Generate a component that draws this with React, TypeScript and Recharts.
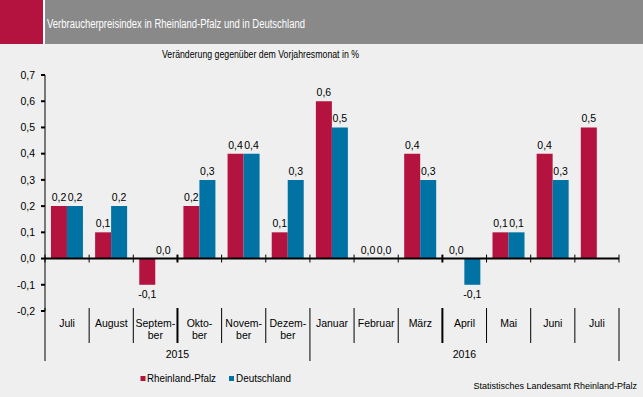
import React from "react";
import { BarChart, Bar, XAxis, YAxis, ReferenceLine, LabelList } from "recharts";

const title = "Verbraucherpreisindex in Rheinland-Pfalz und in Deutschland";
const subtitle = "Veränderung gegenüber dem Vorjahresmonat in %";
const source = "Statistisches Landesamt Rheinland-Pfalz";

const months = ["Juli", "August", "September", "Oktober", "November", "Dezember", "Januar", "Februar", "März", "April", "Mai", "Juni", "Juli"];
const monthLabels = [["Juli"], ["August"], ["Septem-", "ber"], ["Okto-", "ber"], ["Novem-", "ber"], ["Dezem-", "ber"], ["Januar"], ["Februar"], ["März"], ["April"], ["Mai"], ["Juni"], ["Juli"]];
const monthYears = ["2015", "2015", "2015", "2015", "2015", "2015", "2016", "2016", "2016", "2016", "2016", "2016", "2016"];

const rlpValues = [0.2, 0.1, -0.1, 0.2, 0.4, 0.1, 0.6, 0.0, 0.4, 0.0, 0.1, 0.4, 0.5];
const deValues: (number | null)[] = [0.2, 0.2, 0.0, 0.3, 0.4, 0.3, 0.5, 0.0, 0.3, -0.1, 0.1, 0.3, null];

const yTicks = [-0.2, -0.1, 0, 0.1, 0.2, 0.3, 0.4, 0.5, 0.6, 0.7];
const quarterBoundaries = [3, 9];

const series = [
  { key: "rlp", name: "Rheinland-Pfalz", color: "#B5133F" },
  { key: "de", name: "Deutschland", color: "#0072A3" },
];

const data = months.map((m, i) => ({
  cat: m + " " + monthYears[i],
  rlp: rlpValues[i],
  de: deValues[i],
}));

const FONT = "'Liberation Sans', Arial, sans-serif";
const fmt = (v: any) => (v === null || v === undefined ? "" : Number(v).toFixed(1).replace(".", ","));

const BarLabel = (props: any) => {
  const { x, y, width, height, value } = props;
  if (value === null || value === undefined || x === undefined) return null;
  const v = Number(value);
  const h = Number(height) || 0;
  const cx = Number(x) + Number(width) / 2;
  if (v < 0) {
    const by = h < 0 ? Number(y) : Number(y) + h;
    return (
      <text x={cx} y={by + 13} textAnchor="middle" fontSize={10.5} fontFamily={FONT} fill="#000">
        {fmt(v)}
      </text>
    );
  }
  const top = h < 0 ? Number(y) + h : Number(y);
  return (
    <text x={cx} y={top - 5} textAnchor="middle" fontSize={10.5} fontFamily={FONT} fill="#000">
      {fmt(v)}
    </text>
  );
};

const CategoryTick = (props: any) => {
  const { x, y, payload, index } = props;
  const n = data.length;
  const band = payload && payload.offset ? payload.offset * 2 : (props.width ? props.width / n : 44.15);
  const left = x - band / 2;
  const lines = monthLabels[index] || [];
  const year = monthYears[index];
  const isYearStart = index === 0 || monthYears[index - 1] !== year;
  const yearCount = monthYears.filter((yy) => yy === year).length;
  const thick = quarterBoundaries.includes(index);
  return (
    <g>
      {lines.map((t: string, k: number) => (
        <text key={k} x={x} y={y + 16 + k * 11.5} textAnchor="middle" fontSize={10.5} fontFamily={FONT} fill="#000">
          {t}
        </text>
      ))}
      {isYearStart ? (
        <>
          <line x1={left} x2={left} y1={y - 3} y2={y + 50} stroke="#000" strokeWidth={1} />
          <text x={left + (yearCount * band) / 2} y={y + 47} textAnchor="middle" fontSize={10.5} fontFamily={FONT} fill="#000">
            {year}
          </text>
        </>
      ) : (
        <line x1={left} x2={left} y1={y - 3} y2={y + 32} stroke="#000" strokeWidth={thick ? 2 : 1} />
      )}
      {index === n - 1 && (
        <line x1={left + band} x2={left + band} y1={y - 3} y2={y + 50} stroke="#000" strokeWidth={1} />
      )}
    </g>
  );
};

const zeroMin = (value: any) => (value === 0 ? 0.01 : 0);

export default function App() {
  return (
    <div style={{ position: "absolute", left: 0, top: 0, width: 643, height: 397, background: "#EEEFEE", overflow: "hidden" }}>
      <svg width={643} height={397} style={{ position: "absolute", left: 0, top: 0 }}>
        <rect x={0} y={0} width={43} height={44} fill="#B5133F" />
        <rect x={43} y={0} width={2} height={44} fill="#FFFFFF" />
        <rect x={45} y={0} width={598} height={44} fill="#898989" />
        <text x={47} y={27.5} fontSize={12.5} fontFamily={FONT} fill="#FFFFFF" textLength={258} lengthAdjust="spacingAndGlyphs">
          {title}
        </text>
        <text x={162} y={57.5} fontSize={11} fontFamily={FONT} fill="#000" textLength={197} lengthAdjust="spacingAndGlyphs">
          {subtitle}
        </text>
        <rect x={140.5} y={376} width={5} height={5} fill={series[0].color} />
        <text x={147} y={381.5} fontSize={10} fontFamily={FONT} fill="#000" textLength={69} lengthAdjust="spacingAndGlyphs">
          {series[0].name}
        </text>
        <rect x={229} y={376} width={5} height={5} fill={series[1].color} />
        <text x={236} y={381.5} fontSize={10} fontFamily={FONT} fill="#000" textLength={55} lengthAdjust="spacingAndGlyphs">
          {series[1].name}
        </text>
        <text x={637} y={388.5} fontSize={9} fontFamily={FONT} fill="#000" textAnchor="end">
          {source}
        </text>
      </svg>
      <div style={{ position: "absolute", left: 0, top: 0 }}>
        <BarChart
          width={643}
          height={397}
          data={data}
          margin={{ top: 75, right: 24, bottom: 0, left: 0 }}
          barCategoryGap="13.5%"
          barGap={0}
        >
          <XAxis
            dataKey="cat"
            height={86}
            axisLine={false}
            tickLine={false}
            tickSize={0}
            tickMargin={0}
            interval={0}
            tick={<CategoryTick />}
          />
          <YAxis
            width={45}
            domain={[-0.2, 0.7]}
            ticks={yTicks}
            allowDataOverflow
            tickFormatter={fmt}
            axisLine={{ stroke: "#000", strokeWidth: 1 }}
            tickLine={{ stroke: "#000", strokeWidth: 2 }}
            tickSize={4}
            tickMargin={6}
            tick={{ fontSize: 10.5, fontFamily: FONT, fill: "#000" }}
          />
          {series.map((s) => (
            <Bar key={s.key} dataKey={s.key} name={s.name} fill={s.color} minPointSize={zeroMin} isAnimationActive={false}>
              <LabelList dataKey={s.key} content={<BarLabel />} />
            </Bar>
          ))}
          <ReferenceLine y={0} stroke="#000" strokeWidth={2} ifOverflow="visible" />
          {data.map((d, i) => (
            <ReferenceLine
              key={"t" + i}
              segment={[{ x: d.cat, y: -0.015 }, { x: d.cat, y: 0.015 }]}
              position="start"
              stroke="#000"
              strokeWidth={quarterBoundaries.includes(i) ? 2 : 1}
              ifOverflow="visible"
            />
          ))}
          <ReferenceLine
            segment={[{ x: data[data.length - 1].cat, y: -0.015 }, { x: data[data.length - 1].cat, y: 0.015 }]}
            position="end"
            stroke="#000"
            strokeWidth={1}
            ifOverflow="visible"
          />
        </BarChart>
      </div>
    </div>
  );
}
